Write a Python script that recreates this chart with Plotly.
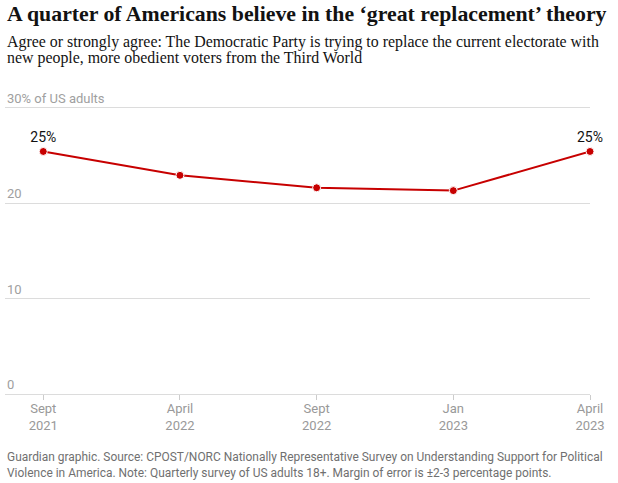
import plotly.graph_objects as go

# ---- data ----
periods = ["Sept 2021", "April 2022", "Sept 2022", "Jan 2023", "April 2023"]
period_labels = ["Sept<br>2021", "April<br>2022", "Sept<br>2022", "Jan<br>2023", "April<br>2023"]
share_agree = [25.4, 22.9, 21.6, 21.3, 25.4]
point_labels = ["25%", "", "", "", "25%"]
y_tickvals = [0, 10, 20, 30]
y_ticktext = ["0", "10", "20", "30% of US adults"]

W, H = 618, 483
Y_TOP = 31
L, R, B = 5, 28, 88.7
T = 107.5 - (Y_TOP - 30) * (394.3 - 107.5) / 30
PH = H - T - B
PW = W - L - R

def py(p):
    return (H - B - p) / PH

def px(p):
    return (p - L) / PW

fig = go.Figure()
fig.add_trace(go.Scatter(
    x=periods, y=share_agree, mode="lines+markers+text",
    text=point_labels, textposition="top center",
    textfont=dict(family="Roboto", size=14, color="#121212"),
    line=dict(color="#c70000", width=2),
    marker=dict(color="#c70000", size=8, line=dict(color="white", width=1)),
    cliponaxis=False, hoverinfo="skip",
))

annotations = [
    dict(text="<b>A quarter of Americans believe in the ‘great replacement’ theory</b>",
         x=px(5), y=py(0), xref="paper", yref="paper", xanchor="left", yanchor="top",
         showarrow=False, align="left",
         font=dict(family="Liberation Serif", size=21.8, color="#121212")),
    dict(text="Agree or strongly agree: The Democratic Party is trying to replace the current electorate with",
         x=px(5), y=py(41.5), xref="paper", yref="paper", xanchor="left", yanchor="middle",
         showarrow=False, align="left",
         font=dict(family="Liberation Serif", size=15.9, color="#121212")),
    dict(text="new people, more obedient voters from the Third World",
         x=px(5), y=py(57.5), xref="paper", yref="paper", xanchor="left", yanchor="middle",
         showarrow=False, align="left",
         font=dict(family="Liberation Serif", size=15.9, color="#121212")),
    dict(text="Guardian graphic. Source: CPOST/NORC Nationally Representative Survey on Understanding Support for Political<br>Violence in America. Note: Quarterly survey of US adults 18+. Margin of error is ±2-3 percentage points.",
         x=px(5), y=py(448), xref="paper", yref="paper", xanchor="left", yanchor="top",
         showarrow=False, align="left",
         font=dict(family="Roboto", size=11.95, color="#707070")),
]
for v, t in zip(y_tickvals, y_ticktext):
    annotations.append(dict(
        text=t, x=px(5), y=v, xref="paper", yref="y", xanchor="left", yanchor="bottom",
        showarrow=False, align="left",
        font=dict(family="Roboto", size=13, color="#a0a0a0")))

fig.update_layout(
    width=W, height=H,
    margin=dict(l=L, r=R, t=T, b=B),
    paper_bgcolor="white", plot_bgcolor="white",
    showlegend=False,
    xaxis=dict(
        type="category", range=[-0.28, 4],
        tickvals=periods, ticktext=period_labels,
        ticks="outside", ticklen=5, tickcolor="#cccccc",
        ticklabelstandoff=-3,
        showgrid=False, zeroline=False, showline=False,
        tickfont=dict(family="Roboto", size=13, color="#999999"),
    ),
    yaxis=dict(
        range=[0, Y_TOP], tickvals=y_tickvals,
        showticklabels=False,
        showgrid=True, gridcolor="#dcdcdc", gridwidth=1,
        zeroline=True, zerolinecolor="#dcdcdc", zerolinewidth=1,
        showline=False, ticks="",
    ),
    annotations=annotations,
)

fig.write_html("out.html", config={"displayModeBar": False},
               post_script="document.body.style.margin='0';document.body.style.overflow='hidden';")
